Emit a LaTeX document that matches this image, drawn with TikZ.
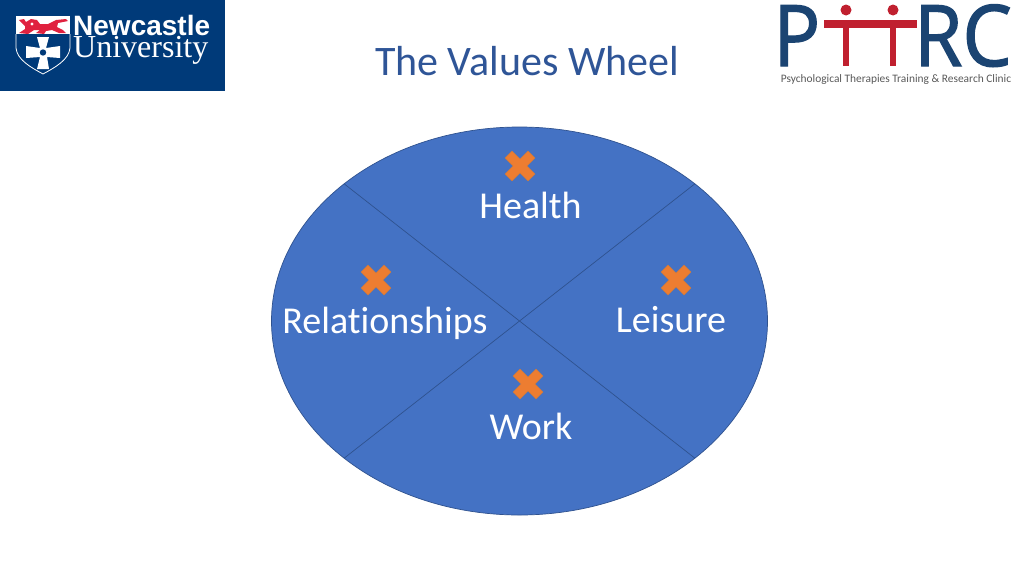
\documentclass[tikz,border=0pt]{standalone}
\usepackage{fontspec}
\usetikzlibrary{shapes.geometric}
\setmainfont[Ligatures=NoCommon]{Carlito}
\newfontfamily\uniserif{Liberation Serif}
\newfontfamily\unisans{Liberation Sans}
\newfontfamily\pttfont[FakeBold=1.6]{Open Sans}
\definecolor{wheelblue}{HTML}{4472C4}
\definecolor{wheeledge}{HTML}{2F528F}
\definecolor{titleblue}{HTML}{2F5597}
\definecolor{crossorange}{HTML}{ED7D31}
\definecolor{crossedge}{HTML}{C77A45}
\definecolor{ncl}{HTML}{003A79}
\definecolor{nclred}{HTML}{E0213F}
\definecolor{pnavy}{HTML}{1B4472}
\definecolor{pred}{HTML}{C0202F}
\tikzset{
  lbl/.style={text=white,inner sep=0pt,anchor=base,font=\fontsize{38}{42}\selectfont},
  spoke/.style={draw=wheeledge,line width=.7pt},
  xmark/.pic={\filldraw[fill=crossorange,draw=crossedge,line width=.6pt,line join=round]
    (0,-7)--(8,-15)--(15,-8)--(7,0)--(15,8)--(8,15)--(0,7)--(-8,15)--(-15,8)--(-7,0)--(-15,-8)--(-8,-15)--cycle;},
  plogo/.style={text=pnavy,inner sep=0pt,anchor=base west,font=\pttfont\fontsize{85}{90}\selectfont}
}
\begin{document}
\begin{tikzpicture}[x=1pt,y=-1pt]
\useasboundingbox (0,0) rectangle (1024,576);
\fill[white] (0,0) rectangle (1024,576);
% Newcastle logo
\fill[ncl] (0,0) rectangle (225,91);
\fill[white] (16,16) rectangle (70,34);
\draw[white,line width=.8pt] (16,34) -- (16,48) .. controls (17,60) and (32,68) .. (43,74) .. controls (54,68) and (69,60) .. (70,48) -- (70,34);
% lion
\fill[nclred] (19,20) -- (24,19) -- (26,22) -- (31,19) -- (37,20) -- (40,24) -- (48,24) -- (56,20) -- (66,19) -- (68,21) -- (58,23) -- (57,27) -- (63,30) -- (66,33) -- (59,33) -- (52,30) -- (46,31) -- (44,34) -- (36,33) -- (40,30) -- (34,30) -- (28,34) -- (19,33) -- (25,29) -- (25,26) -- cycle;
\fill[white] (32,24) circle (1.6);
% cross
\fill[white] (37,37) -- (49,37) -- (46,48) -- (60,46) -- (60,58) -- (47,57) -- (49,69) -- (37,69) -- (40,57) -- (26,58) -- (26,46) -- (40,48) -- cycle;
\fill[ncl] (43,52.5) circle (3.2);
\node[text=white,inner sep=0pt,anchor=base west,font=\unisans\bfseries\fontsize{28}{30}\selectfont] (newc) at (73,35) {Newcastle};
\node[text=white,inner sep=0pt,anchor=base west,font=\uniserif\fontsize{32}{34}\selectfont] (univ) at (73,57.5) {University};
% Title
\node[text=titleblue,inner sep=0pt,anchor=base,font=\fontsize{42}{46}\selectfont] (title) at (527,75) {The Values Wheel};
% PTTRC logo
\node[plogo,anchor=base west] (pp) at (773,66) {\scalebox{.92}[1]{P}};
\node[plogo,anchor=base east] (rc) at (1012,66) {\scalebox{.92}[1]{RC}};
\fill[pred] (824,20) rectangle (917,28);
\fill[pred] (843,20) rectangle (849,66);
\fill[pred] (890,20) rectangle (896,66);
\fill[pred] (846,10) circle (5.5);
\fill[pred] (893,10) circle (5.5);
\node[text=black!65,inner sep=0pt,font=\fontsize{11.4}{13}\selectfont] (sub) at (896,80) {Psychological Therapies Training \& Research Clinic};
% Wheel
\node[ellipse,draw=wheeledge,fill=wheelblue,line width=.7pt,minimum width=496pt,minimum height=388pt,inner sep=0pt,outer sep=0pt] (wheel) at (519.5,321) {};
\draw[spoke] (wheel.north west) -- (wheel.south east);
\draw[spoke] (wheel.north east) -- (wheel.south west);
\pic at (520,166) {xmark};
\pic at (376,280) {xmark};
\pic at (676,280) {xmark};
\pic at (528,384) {xmark};
\node[lbl] (health) at (530.5,218) {Health};
\node[lbl] (rel) at (385,333) {Relationships};
\node[lbl] (leisure) at (671,332) {Leisure};
\node[lbl] (work) at (531,439) {Work};
\end{tikzpicture}
\end{document}
